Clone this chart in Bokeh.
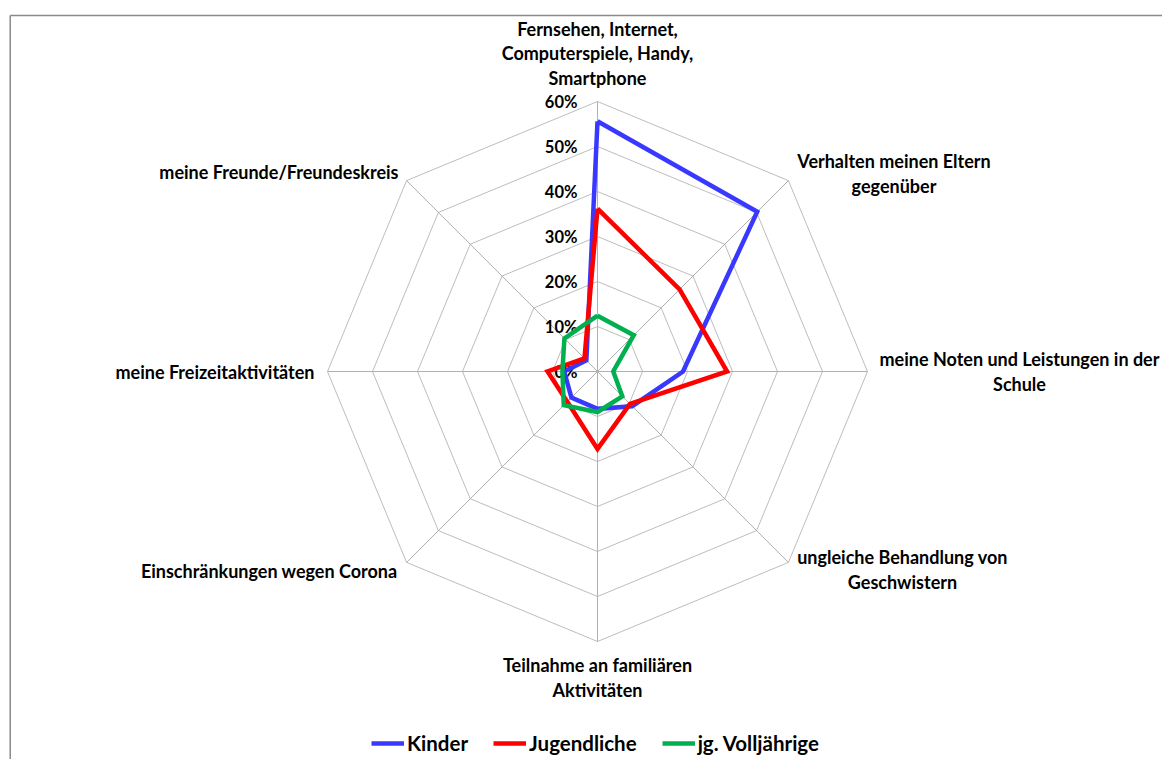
import math
from bokeh.plotting import figure
from bokeh.models import Legend, LegendItem, Range1d
from bokeh.core.properties import value
from bokeh.embed import file_html
from bokeh.resources import INLINE

# ---------------- data ----------------
categories = [
    "Fernsehen, Internet,\nComputerspiele, Handy,\nSmartphone",
    "Verhalten meinen Eltern\ngegenüber",
    "meine Noten und Leistungen in der\nSchule",
    "ungleiche Behandlung von\nGeschwistern",
    "Teilnahme an familiären\nAktivitäten",
    "Einschränkungen wegen Corona",
    "meine Freizeitaktivitäten",
    "meine Freunde/Freundeskreis",
]
kinder = [55.6, 50.2, 19.0, 10.9, 8.3, 8.2, 7.4, 3.5]
jugendliche = [36.2, 25.8, 28.8, 10.2, 17.2, 9.5, 11.1, 4.1]
volljaehrige = [12.4, 11.4, 3.5, 7.8, 9.0, 10.6, 7.8, 10.4]
series_names = ["Kinder", "Jugendliche", "jg. Volljährige"]
series_colors = ["#3838ff", "#ff0000", "#00b050"]
tick_values = [0, 10, 20, 30, 40, 50, 60]
tick_labels = ["0%", "10%", "20%", "30%", "40%", "50%", "60%"]

# ---------------- layout ----------------
W, H = 1162, 759
CX, CY = 597, 371          # centre of the radar in canvas pixels
PX = 4.5                    # pixels per percent
FONT = "Lato"

p = figure(width=W, height=H,
           x_range=Range1d(-CX / PX, (W - CX) / PX),
           y_range=Range1d(-(H - CY) / PX, CY / PX),
           output_backend="svg", toolbar_location=None, min_border=0)
p.axis.visible = False
p.grid.visible = False
p.outline_line_color = None
p.background_fill_color = "white"

n = len(categories)
thetas = [math.pi / 2 - i * 2 * math.pi / n for i in range(n)]

# chart border (left & top visible)
bx = (9.7 - CX) / PX
by = (CY - 15.0) / PX
p.multi_line(xs=[[bx, bx], [bx, 400]], ys=[[-400, by], [by, by]],
             line_color="#8a8a8a", line_width=1.5)

# grid rings
rmax = tick_values[-1]
ring_xs, ring_ys = [], []
for v in tick_values[1:]:
    ring_xs.append([v * math.cos(t) for t in thetas] + [v * math.cos(thetas[0])])
    ring_ys.append([v * math.sin(t) for t in thetas] + [v * math.sin(thetas[0])])
p.multi_line(xs=ring_xs, ys=ring_ys, line_color="#bdbdbd", line_width=1)

# spokes
p.segment(x0=[0] * n, y0=[0] * n,
          x1=[rmax * math.cos(t) for t in thetas],
          y1=[rmax * math.sin(t) for t in thetas],
          line_color="#b0b0b0", line_width=1)

# tick labels
p.text(x=[-20 / PX] * len(tick_values), y=tick_values, text=tick_labels,
       text_align="right", text_baseline="middle",
       text_font=value(FONT), text_font_style="bold", text_font_size="16.5px",
       text_color="#000000")

# category labels (offsets in pixels from centre)
label_off = [(0, 318, "center"), (296.5, 198, "center"), (422, 0, "center"),
             (305, -198, "center"), (0, -306, "center"), (-200, -199, "right"),
             (-283, 0, "right"), (-199, 200, "right")]
for cat, (dx, dy, al) in zip(categories, label_off):
    p.text(x=[dx / PX], y=[dy / PX], text=[cat], text_align=al,
           text_baseline="middle", text_line_height=1.1,
           text_font=value(FONT), text_font_style="bold",
           text_font_size="18px", text_color="#000000")

# series
items = []
for name, vals, col in zip(series_names, [kinder, jugendliche, volljaehrige], series_colors):
    xs = [v * math.cos(t) for v, t in zip(vals, thetas)]
    ys = [v * math.sin(t) for v, t in zip(vals, thetas)]
    xs.append(xs[0]); ys.append(ys[0])
    r = p.line(xs, ys, line_color=col, line_width=4.5, line_join="miter")
    items.append(LegendItem(label=name, renderers=[r]))

legend = Legend(items=items, orientation="horizontal", location=(371, 4),
                glyph_width=33, glyph_height=20, label_height=20,
                label_standoff=3, spacing=25, padding=0, margin=0,
                border_line_color=None, background_fill_alpha=0,
                label_text_font=FONT, label_text_font_style="bold",
                label_text_font_size="20.5px", label_text_color="#000000")
p.add_layout(legend)

open("out.html", "w").write(file_html(p, INLINE))
